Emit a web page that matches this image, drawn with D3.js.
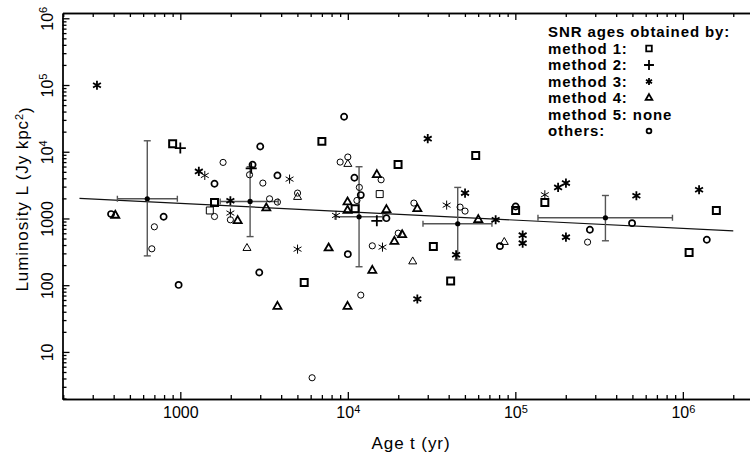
<!DOCTYPE html>
<html><head><meta charset="utf-8">
<script src="https://cdn.jsdelivr.net/npm/d3@7"></script>
<style>
body{margin:0;background:#fff}
svg{display:block}
text{font-family:"Liberation Sans",Arial,Helvetica,sans-serif;fill:#000}
</style>
</head><body>
<svg id="c" width="750" height="460"></svg>
<script>
// ---------- tick labels / titles ----------
const xTickValues = [1e3, 1e4, 1e5, 1e6];
const xTickLabels = ["1000", "10^4", "10^5", "10^6"];
const yTickValues = [10, 100, 1e3, 1e4, 1e5, 1e6];
const yTickLabels = ["10", "100", "1000", "10^4", "10^5", "10^6"];
const xTitle = "Age t (yr)";
const yTitle = "Luminosity L (Jy kpc^2)";
const legendTitle = "SNR ages obtained by:";
const legendLabels = ["method 1:", "method 2:", "method 3:", "method 4:", "method 5: none", "others:"];

// ---------- data: [age (yr), luminosity (Jy kpc^2)] ----------
const method1 = [[900,13200],[1600,1740],[7000,14300],[19950,6450],[11050,1400],[32400,380],[5490,110],[58000,8810],[41100,116],[100400,1318],[150000,1740],[1.585e6,1318],[1.09e6,309]];
const method1Thin = [[1500,1318],[15500,2320]];
const method2 = [[1000,11350],[2650,5650],[14900,923]];
const method3 = [[318,99000],[1290,5070],[1990,1840],[30000,15700],[26000,62],[50100,2400],[44300,286],[76300,955],[110600,562],[110600,427],[180000,2920],[200500,3390],[200500,525],[528000,2190],[1.25e6,2700]];
const method3Thin = [[1400,4415],[1990,1205],[4490,3890],[5010,347],[16100,372],[8500,1110],[38900,1585],[150000,2265]];
const method4 = [[409,1110],[2200,923],[3260,1430],[9960,1760],[9960,1320],[14900,4520],[17000,1350],[26000,1400],[7680,359],[18970,452],[21100,569],[14000,166],[3800,48],[9960,48],[60100,955]];
const method4Thin = [[2500,359],[10000,6530],[5010,2090],[24400,226],[85900,442]];
const others = [[386,1164],[795,1060],[977,101],[1600,3310],[2700,6380],[2960,155],[3000,12000],[3800,4415],[10950,4070],[11950,2240],[17000,1010],[10000,292],[80900,385],[100400,1510],[278600,677],[497600,851],[1.39e6,479],[9500,33500]];
const othersThin = [[700,750],[676,351],[1800,6920],[1600,1070],[1990,955],[2590,4520],[3110,3390],[3410,1970],[3800,1760],[5010,2400],[9000,7000],[10000,8330],[11720,2920],[11330,1860],[15800,3800],[24800,1700],[14000,389],[20000,602],[11950,71],[6120,4.1],[46800,1480],[50100,1290],[270000,442]];

// binned means with ranges
const binAge   = [635, 2610, 11670, 45300, 345000];
const binLum   = [1975, 1800, 1060, 833, 1025];
const binAgeLo = [421, 1730, 8390, 28100, 136500];
const binAgeHi = [960, 3840, 16200, 72500, 867000];
const binLumLo = [275, 535, 189, 240, 463];
const binLumHi = [14600, 5960, 5960, 2920, 2210];

// fitted power law
const fitAge = [250, 2e6];
const fitLum = [2000, 650];

// ---------- scales ----------
const svg = d3.select("#c");
const x = d3.scaleLog().domain([198, 2.5e6]).range([62.5, 749.5]);
const y = d3.scaleLog().domain([1.97, 1.2e6]).range([399, 13]);
const X0 = x.range()[0], Y0 = y.range()[0], Y1 = y.range()[1];

function minorTicks(scale) {
  const [lo, hi] = scale.domain(); const out = [];
  for (let e = Math.floor(Math.log10(lo)); e <= Math.ceil(Math.log10(hi)); e++)
    for (let m = 2; m <= 9; m++) { const v = m * Math.pow(10, e); if (v >= lo && v <= hi) out.push(v); }
  return out;
}
function setLabel(sel, label, supSize) {
  const parts = label.split("^");
  sel.text(parts[0]);
  if (parts.length > 1) sel.append("tspan").attr("dy", "-0.5em").attr("font-size", supSize).text(parts[1]);
}

const axisStyle = g => { g.selectAll("path,line").attr("stroke", "#000").attr("stroke-width", 1.3); g.attr("font-size", null).attr("font-family", null); };

// bottom axis
const gxMinor = svg.append("g").attr("transform", `translate(0,${Y0})`)
  .call(d3.axisBottom(x).tickValues(minorTicks(x)).tickSize(-4).tickSizeOuter(0).tickFormat(() => ""));
const gx = svg.append("g").attr("transform", `translate(0,${Y0})`)
  .call(d3.axisBottom(x).tickValues(xTickValues).tickSize(-7).tickSizeOuter(0).tickPadding(8));
gx.selectAll(".tick text").attr("font-size", "16px").each(function(d, i) { setLabel(d3.select(this), xTickLabels[i], "11px"); });
[gxMinor, gx].forEach(axisStyle);

// top axis
const gtMinor = svg.append("g").attr("transform", `translate(0,${Y1})`)
  .call(d3.axisTop(x).tickValues(minorTicks(x)).tickSize(-4).tickSizeOuter(0).tickFormat(() => ""));
const gt = svg.append("g").attr("transform", `translate(0,${Y1})`)
  .call(d3.axisTop(x).tickValues(xTickValues).tickSize(-7).tickSizeOuter(0).tickFormat(() => ""));
[gtMinor, gt].forEach(axisStyle);

// left axis
const gyMinor = svg.append("g").attr("transform", `translate(${X0},0)`)
  .call(d3.axisLeft(y).tickValues(minorTicks(y)).tickSize(-4).tickSizeOuter(0).tickFormat(() => ""));
const gy = svg.append("g").attr("transform", `translate(${X0},0)`)
  .call(d3.axisLeft(y).tickValues(yTickValues).tickSize(-7).tickSizeOuter(0));
gy.selectAll(".tick text").attr("font-size", "16px").attr("x", null).attr("dy", null)
  .attr("text-anchor", "middle").attr("transform", "translate(-10,0) rotate(-90)")
  .each(function(d, i) { setLabel(d3.select(this), yTickLabels[i], "11px"); });
[gyMinor, gy].forEach(axisStyle);

// titles
const xt = svg.append("text").attr("x", 411).attr("y", 449).attr("text-anchor", "middle")
  .attr("font-size", "17px").attr("letter-spacing", "0.9px");
setLabel(xt, xTitle, "11px");
const yt = svg.append("text").attr("text-anchor", "middle").attr("font-size", "17px").attr("letter-spacing", "0.9px")
  .attr("transform", "translate(28,199) rotate(-90)");
{
  const [a, rest] = yTitle.split("^");
  yt.append("tspan").text(a);
  yt.append("tspan").attr("dy", "-0.5em").attr("font-size", "11px").text(rest[0]);
  yt.append("tspan").attr("dy", "0.5em").text(rest.slice(1));
}

// fit line
svg.append("path").datum(d3.zip(fitAge, fitLum))
  .attr("d", d3.line().x(d => x(d[0])).y(d => y(d[1])))
  .attr("fill", "none").attr("stroke", "#111").attr("stroke-width", 1.2);

// binned error bars
const bins = binAge.map((a, i) => ({a, l: binLum[i], a0: binAgeLo[i], a1: binAgeHi[i], l0: binLumLo[i], l1: binLumHi[i]}));
const gb = svg.append("g").attr("stroke", "#555").attr("stroke-width", 1.4).attr("fill", "none");
bins.forEach(b => {
  gb.append("line").attr("x1", x(b.a)).attr("x2", x(b.a)).attr("y1", y(b.l0)).attr("y2", y(b.l1));
  gb.append("line").attr("x1", x(b.a) - 3.5).attr("x2", x(b.a) + 3.5).attr("y1", y(b.l0)).attr("y2", y(b.l0));
  gb.append("line").attr("x1", x(b.a) - 3.5).attr("x2", x(b.a) + 3.5).attr("y1", y(b.l1)).attr("y2", y(b.l1));
  gb.append("line").attr("x1", x(b.a0)).attr("x2", x(b.a1)).attr("y1", y(b.l)).attr("y2", y(b.l));
  gb.append("line").attr("x1", x(b.a0)).attr("x2", x(b.a0)).attr("y1", y(b.l) - 3).attr("y2", y(b.l) + 3);
  gb.append("line").attr("x1", x(b.a1)).attr("x2", x(b.a1)).attr("y1", y(b.l) - 3).attr("y2", y(b.l) + 3);
});
svg.append("g").selectAll("circle").data(bins).join("circle")
  .attr("cx", d => x(d.a)).attr("cy", d => y(d.l)).attr("r", 2.6).attr("fill", "#000");

// markers
const shapes = {
  square: d3.symbol(d3.symbolSquare2, 62),
  plus: d3.symbol(d3.symbolPlus, 42),
  star: d3.symbol(d3.symbolAsterisk, 58),
  tri: d3.symbol(d3.symbolTriangle2, 46),
  circ: d3.symbol(d3.symbolCircle, 30)
};
function plot(data, shape, sw) {
  svg.append("g").selectAll("path").data(data).join("path")
    .attr("transform", d => `translate(${x(d[0])},${y(d[1])})`)
    .attr("d", shapes[shape]).attr("fill", "none").attr("stroke", "#000").attr("stroke-width", sw);
}
plot(othersThin, "circ", 1);
plot(others, "circ", 1.7);
plot(method4Thin, "tri", 1);
plot(method4, "tri", 1.8);
plot(method3Thin, "star", 1);
plot(method3, "star", 1.8);
plot(method1Thin, "square", 1);
plot(method1, "square", 2);
plot(method2, "plus", 1.8);

// legend
const lg = svg.append("g").attr("font-size", "15px").attr("font-weight", "bold").attr("letter-spacing", "0.9px");
lg.append("text").attr("x", 548).attr("y", 37).text(legendTitle);
const legendShapes = [d3.symbol(d3.symbolSquare2, 40), d3.symbol(d3.symbolPlus, 34), d3.symbol(d3.symbolAsterisk, 34), d3.symbol(d3.symbolTriangle2, 32), null, d3.symbol(d3.symbolCircle, 18)];
legendLabels.forEach((t, i) => {
  const yy = 37 + 16.5 * (i + 1);
  lg.append("text").attr("x", 548).attr("y", yy).text(t);
  if (legendShapes[i]) lg.append("path").attr("transform", `translate(649,${yy - 5})`).attr("d", legendShapes[i])
    .attr("fill", "none").attr("stroke", "#000").attr("stroke-width", 1.8);
});
</script>
</body></html>
